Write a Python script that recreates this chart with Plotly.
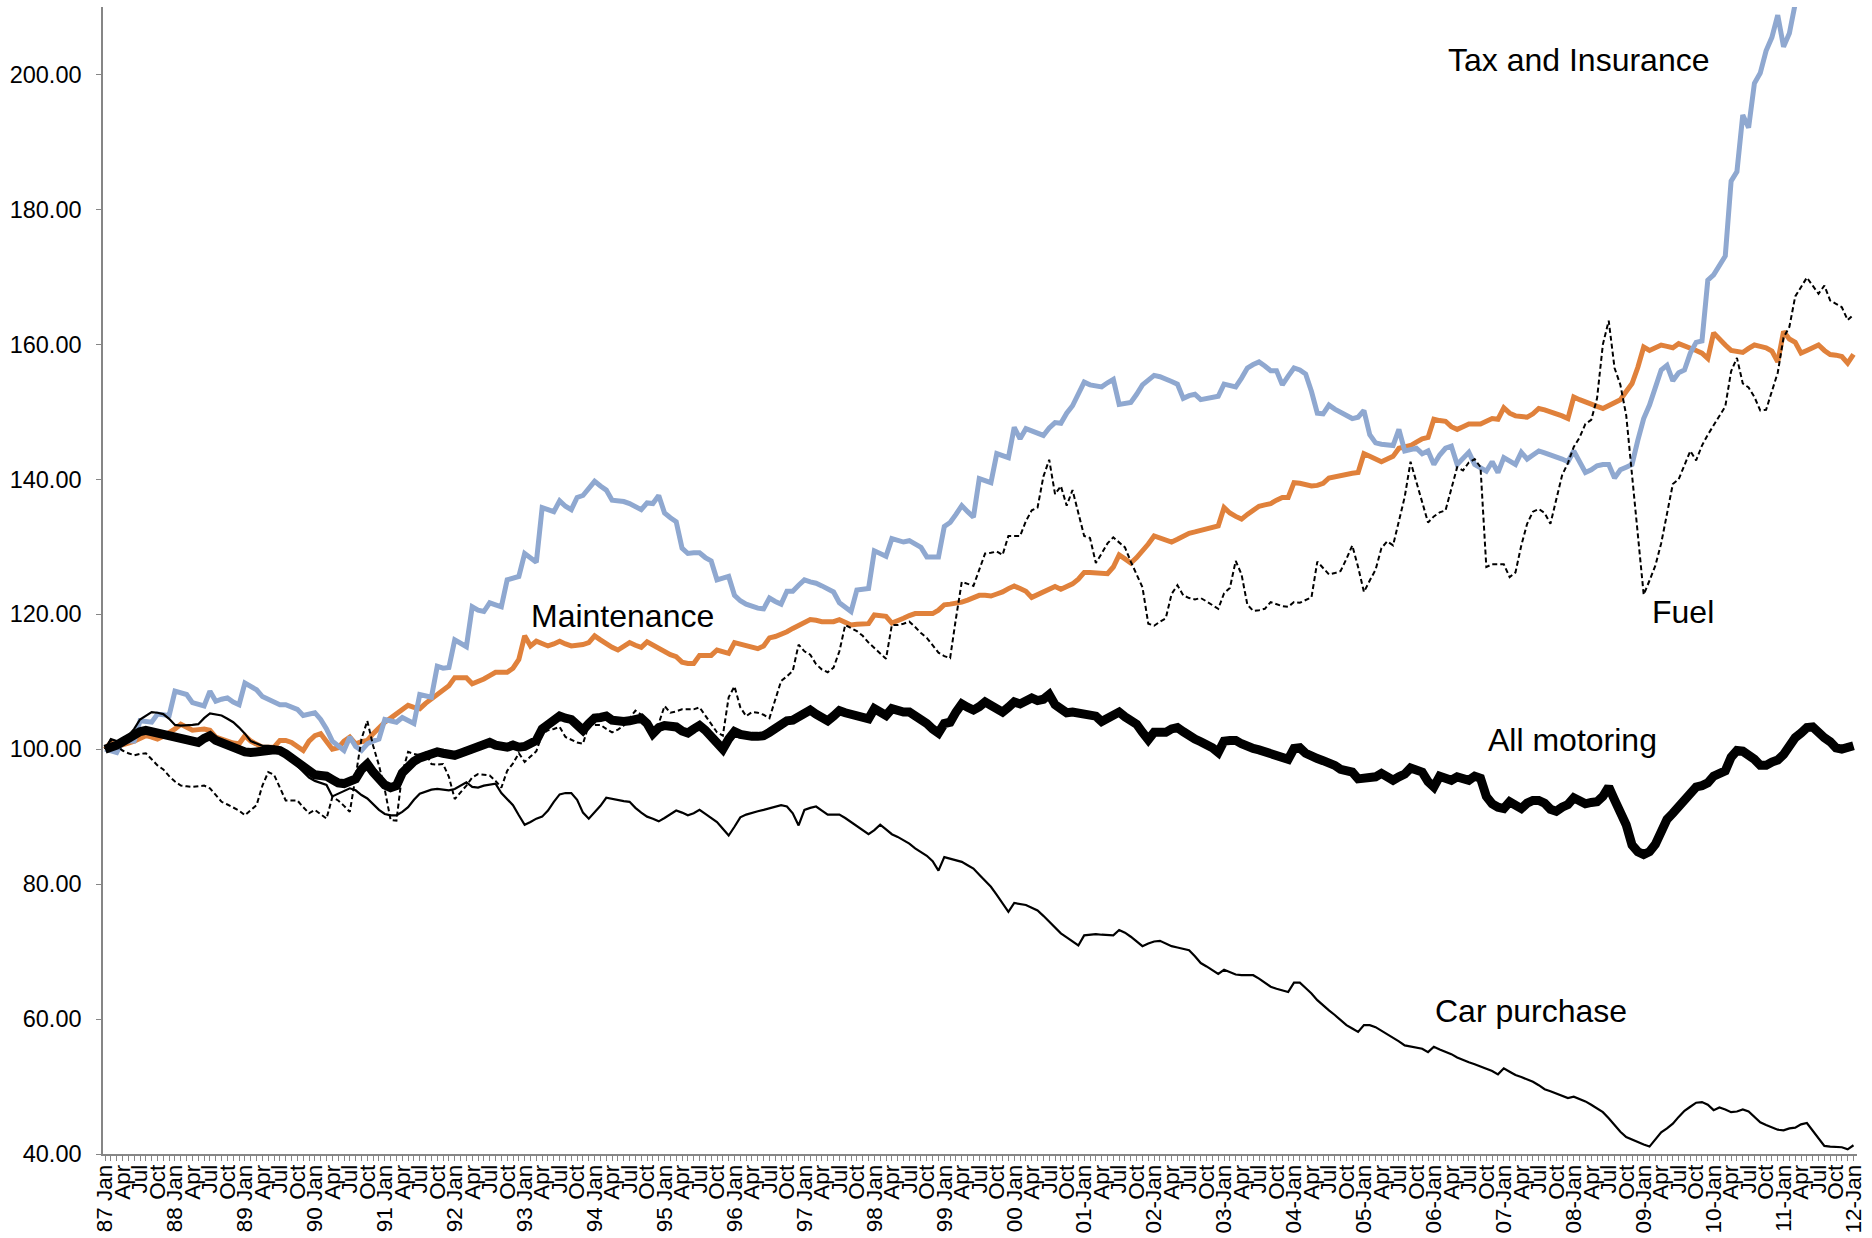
import plotly.graph_objects as go

# ---------------- data (monthly index, Jan 1987 = 100) ----------------
tax_insurance = [
    100.0, 99.7, 99.5, 101.2, 101.2, 101.2, 104.2, 104.1, 104.0, 105.2, 105.1, 105.0,
    108.6, 108.3, 108.1, 106.9, 106.6, 106.4, 108.6, 107.1, 107.4, 107.6, 107.0, 106.6,
    109.8, 109.2, 108.8, 107.8, 107.4, 106.8, 106.6, 106.6, 106.2, 105.9, 105.0, 105.2,
    105.4, 104.4, 103.0, 101.2, 100.4, 99.8, 101.8, 100.4, 99.8, 100.8, 101.2, 101.5,
    104.4, 104.2, 104.0, 104.7, 104.2, 103.8, 108.1, 107.9, 107.7, 112.3, 112.0, 112.1,
    116.2, 115.7, 115.2, 121.1, 120.6, 120.4, 121.7, 121.4, 121.1, 125.1, 125.4, 125.6,
    129.0, 128.3, 127.7, 135.8, 135.4, 135.2, 136.8, 136.0, 135.5, 137.3, 137.6, 138.6,
    139.7, 139.0, 138.4, 136.9, 136.8, 136.7, 136.4, 136.0, 135.5, 136.5, 136.4, 137.6,
    135.0, 134.3, 133.7, 129.8, 129.0, 129.1, 129.1, 128.4, 127.9, 125.1, 125.4, 125.6,
    122.8, 122.0, 121.5, 121.1, 120.9, 120.8, 122.4, 121.9, 121.5, 123.4, 123.4, 124.3,
    125.1, 124.8, 124.6, 124.2, 123.8, 123.3, 121.7, 121.0, 120.4, 123.6, 123.7, 123.8,
    129.4, 129.0, 128.6, 131.2, 130.9, 130.7, 130.9, 130.4, 129.9, 128.5, 128.5, 128.5,
    133.0, 133.6, 134.8, 136.1, 135.2, 134.4, 140.1, 139.8, 139.5, 143.8, 143.5, 143.2,
    147.7, 146.0, 147.5, 147.2, 146.8, 146.5, 147.6, 148.4, 148.3, 149.8, 150.9, 152.8,
    154.4, 154.0, 153.8, 153.7, 154.3, 154.8, 151.1, 151.3, 151.4, 152.6, 154.0, 154.7,
    155.4, 155.2, 154.9, 154.5, 154.1, 152.0, 152.4, 152.6, 151.8, 152.0, 152.2, 152.3,
    154.1, 153.9, 153.7, 155.0, 156.5, 157.0, 157.4, 156.8, 156.1, 156.1, 154.0, 155.3,
    156.5, 156.2, 155.6, 153.0, 149.8, 149.7, 151.0, 150.4, 149.9, 149.4, 149.0, 149.2,
    150.2, 146.6, 145.4, 145.2, 145.1, 145.0, 147.4, 144.2, 144.4, 144.6, 143.8, 144.2,
    142.2, 143.6, 144.6, 144.9, 142.2, 143.2, 144.0, 142.2, 141.8, 141.2, 142.6, 141.0,
    143.2, 142.7, 142.2, 144.0, 143.0, 143.6, 144.2, 143.9, 143.6, 143.4, 143.0, 142.6,
    144.2, 142.6, 141.0, 141.4, 142.0, 142.2, 142.2, 140.2, 141.4, 141.8, 142.2, 145.8,
    149.0, 151.0, 153.4, 156.2, 156.9, 154.6, 155.8, 156.2, 158.7, 160.3, 160.5, 169.5,
    170.3, 171.8, 173.1, 184.2, 185.6, 194.0, 192.1, 198.7, 200.2, 203.5, 205.5, 208.8,
    204.1, 206.1, 210.5, 213.0, 215.0, 216.0, 218.0, 219.0, 220.0, 222.0, 223.0, 224.0,
    226.0,
]

maintenance = [
    100.0, 101.0, 100.4, 100.6, 100.9, 101.2, 101.6, 102.0, 101.8, 101.5, 101.9, 102.4,
    103.0, 103.7, 103.2, 102.8, 102.9, 103.0, 102.8, 101.8, 101.5, 101.1, 100.9, 100.8,
    102.0, 101.2, 100.8, 100.3, 100.3, 100.3, 101.3, 101.3, 101.0, 100.5, 99.8, 101.2,
    102.0, 102.3, 101.2, 100.0, 100.2, 101.2, 101.8, 100.8, 101.1, 101.3, 102.3, 103.2,
    104.0, 104.6, 105.2, 105.8, 106.5, 106.2, 106.0, 106.8, 107.4, 108.2, 108.8, 109.4,
    110.6, 110.6, 110.6, 109.7, 110.0, 110.4, 110.9, 111.4, 111.4, 111.4, 112.0, 113.3,
    116.8, 115.3, 116.0, 115.6, 115.3, 115.6, 116.0, 115.6, 115.3, 115.4, 115.5, 115.8,
    116.8, 116.2, 115.6, 115.1, 114.7, 115.2, 115.8, 115.4, 115.1, 115.9, 115.4, 114.9,
    114.4, 114.0, 113.7, 112.9, 112.7, 112.7, 113.9, 113.9, 113.9, 114.7, 114.4, 114.2,
    115.8, 115.6, 115.4, 115.1, 114.9, 115.3, 116.5, 116.7, 117.0, 117.4, 117.9, 118.4,
    118.7, 119.2, 119.1, 118.9, 118.9, 118.9, 119.2, 118.8, 118.4, 118.5, 118.6, 118.6,
    119.9, 119.8, 119.7, 118.7, 119.0, 119.4, 119.8, 120.1, 120.1, 120.1, 120.1, 120.6,
    121.4, 121.5, 121.6, 121.8, 122.1, 122.5, 122.8, 122.8, 122.7, 123.0, 123.3, 123.8,
    124.2, 123.8, 123.4, 122.5, 122.9, 123.2, 123.7, 124.1, 123.7, 124.1, 124.5, 125.2,
    126.2, 126.2, 126.1, 126.0, 126.0, 127.0, 128.8, 128.2, 127.6, 128.4, 129.3, 130.4,
    131.6, 131.3, 131.0, 130.7, 131.1, 131.6, 132.0, 132.2, 132.4, 132.6, 132.8, 133.1,
    135.8, 135.0, 134.5, 134.1, 134.8, 135.5, 136.0, 136.2, 136.4, 136.9, 137.3, 137.3,
    139.5, 139.4, 139.2, 139.0, 139.1, 139.4, 140.2, 140.4, 140.6, 140.7, 140.9, 141.0,
    143.8, 143.4, 143.0, 142.6, 143.0, 143.4, 144.6, 144.8, 145.0, 145.5, 146.0, 146.2,
    148.9, 148.7, 148.6, 147.8, 147.4, 147.8, 148.2, 148.2, 148.2, 148.6, 149.0, 148.9,
    150.6, 149.8, 149.4, 149.3, 149.2, 149.7, 150.5, 150.3, 150.0, 149.8, 149.4, 149.0,
    152.2, 151.8, 151.4, 151.0, 150.8, 150.5, 151.0, 151.4, 151.8, 153.0, 154.2, 156.6,
    159.6, 159.1, 159.5, 159.9, 159.7, 159.5, 160.1, 159.8, 159.5, 159.1, 158.7, 157.9,
    161.7, 160.7, 159.9, 159.1, 159.0, 158.8, 159.4, 159.9, 159.7, 159.5, 159.0, 157.4,
    161.9, 160.8, 160.3, 158.7, 159.1, 159.5, 159.9, 159.1, 158.5, 158.4, 158.2, 157.2,
    158.5,
]

fuel = [
    100.0, 101.4, 100.5, 99.8, 99.4, 99.1, 99.3, 99.4, 98.5, 97.6, 97.0, 96.0,
    95.2, 94.6, 94.5, 94.4, 94.5, 94.6, 94.2, 93.2, 92.2, 91.8, 91.4, 90.9,
    90.2, 90.9, 91.7, 94.6, 96.6, 96.2, 94.2, 92.4, 92.4, 92.4, 91.4, 90.5,
    91.0, 90.4, 89.7, 92.9, 92.4, 91.6, 90.7, 96.0, 101.5, 104.2, 100.5, 97.6,
    94.0, 89.5, 89.4, 96.5, 99.6, 99.3, 99.1, 99.5, 97.8, 97.7, 97.8, 95.9,
    92.6, 93.6, 94.6, 95.8, 96.3, 96.2, 96.1, 95.3, 94.3, 96.8, 97.9, 99.4,
    98.1, 98.9, 99.7, 102.2, 102.8, 103.0, 103.3, 101.8, 101.4, 101.0, 100.8, 103.6,
    103.6, 103.6, 103.0, 102.5, 102.9, 103.5, 104.6, 105.7, 105.1, 104.0, 102.3, 103.8,
    106.4, 105.4, 105.6, 105.9, 105.9, 105.9, 106.2, 105.0, 103.8, 102.5, 102.0, 107.7,
    109.3, 106.2, 104.9, 105.5, 105.4, 105.1, 104.6, 107.2, 110.1, 110.8, 111.6, 115.5,
    114.5, 114.0, 112.6, 111.8, 111.4, 112.1, 114.5, 118.4, 118.0, 117.5, 116.8, 115.8,
    115.0, 114.2, 113.4, 118.4, 118.4, 118.6, 118.9, 118.1, 117.2, 116.5, 115.4, 114.3,
    113.8, 113.5, 119.4, 124.8, 124.5, 124.2, 126.6, 129.0, 129.1, 129.3, 128.8, 131.6,
    131.6, 131.6, 133.8, 135.4, 135.8, 140.4, 142.9, 137.8, 139.0, 136.1, 138.4, 134.8,
    131.6, 131.3, 127.6, 129.0, 130.5, 131.4, 130.6, 129.9, 127.8, 126.0, 124.0, 118.6,
    118.3, 118.9, 119.4, 123.0, 124.3, 122.8, 122.4, 122.2, 122.4, 121.9, 121.3, 120.8,
    123.1, 123.9, 127.9, 125.9, 121.4, 120.5, 120.6, 120.8, 121.8, 121.5, 121.2, 121.1,
    121.8, 121.7, 122.1, 122.5, 127.8, 126.8, 125.9, 126.1, 126.4, 128.2, 130.2, 127.0,
    123.3, 125.0, 126.6, 129.8, 130.8, 130.2, 134.0, 137.4, 142.6, 139.5, 136.6, 133.6,
    134.5, 135.1, 135.4, 138.6, 141.8, 141.3, 142.5, 143.0, 141.8, 127.0, 127.4, 127.4,
    127.4, 125.5, 126.2, 130.2, 133.4, 135.2, 135.6, 135.0, 133.4, 137.0, 140.6, 142.4,
    144.8, 146.2, 148.2, 148.8, 152.0, 160.0, 163.5, 156.5, 154.0, 149.5, 140.6, 131.2,
    122.9, 125.0, 127.2, 130.5, 135.0, 139.3, 140.0, 142.2, 144.2, 142.8, 145.0, 146.6,
    148.0, 149.4, 150.8, 156.0, 158.0, 154.2, 153.6, 152.2, 150.2, 150.3, 153.0, 155.8,
    161.0, 162.6, 167.1, 168.5, 169.9, 168.7, 167.5, 168.7, 166.5, 166.0, 165.5, 163.6,
    164.4,
]

all_motoring = [
    100.0, 100.2, 100.6, 101.1, 101.6, 102.2, 102.6, 102.8, 102.6, 102.4, 102.1, 101.8,
    101.6, 101.5, 101.3, 101.2, 101.0, 101.6, 102.0, 101.3, 100.9, 100.6, 100.3, 100.0,
    99.6, 99.5, 99.5, 99.7, 99.8, 99.9, 99.8, 99.3, 98.7, 98.1, 97.5, 96.6,
    96.2, 96.1, 96.0, 95.5, 95.0, 94.9, 95.1, 95.6, 97.0, 97.8, 96.6, 95.5,
    94.7, 94.3, 94.6, 96.5, 97.5, 98.2, 98.7, 99.0, 99.3, 99.6, 99.4, 99.2,
    99.1, 99.4, 99.7, 100.0, 100.4, 100.7, 101.0, 100.6, 100.4, 100.3, 100.6, 100.3,
    100.4, 100.8, 101.3, 103.0, 103.6, 104.2, 104.9, 104.6, 104.4, 103.6, 102.8, 103.8,
    104.6, 104.7, 104.9, 104.3, 104.1, 104.1, 104.2, 104.3, 104.6, 103.8, 102.3, 103.2,
    103.5, 103.4, 103.3, 102.7, 102.4, 103.0, 103.5, 102.8, 101.8, 101.0, 100.0, 101.5,
    102.6, 102.2, 101.9, 101.9, 101.9, 102.0, 102.5, 103.0, 103.7, 104.2, 104.3, 104.9,
    105.5, 105.8, 105.2, 104.6, 104.2, 104.9, 105.7, 105.4, 105.2, 105.1, 104.8, 104.5,
    106.0, 105.4, 105.0, 106.0, 105.6, 105.5, 105.5, 105.0, 104.4, 103.8, 103.0, 102.4,
    103.8, 104.0, 105.5, 106.7, 106.2, 105.8, 106.3, 107.0, 106.5, 106.1, 105.5, 106.2,
    107.0, 106.7, 107.3, 107.6, 107.2, 107.4, 108.1, 106.6, 106.0, 105.4, 105.5, 105.4,
    105.2, 105.0, 104.9, 104.1, 104.6, 105.2, 105.5, 104.8, 104.2, 103.7, 102.5, 101.4,
    102.5, 102.6, 102.5, 103.0, 103.2, 102.6, 101.9, 101.5, 101.1, 100.7, 100.2, 99.5,
    101.2, 101.3, 101.3, 100.8, 100.3, 100.1, 99.9, 99.6, 99.5, 99.2, 98.8, 98.5,
    100.1, 100.2, 99.4, 98.8, 98.6, 98.3, 98.1, 97.6, 97.0, 96.7, 96.6, 95.6,
    95.6, 95.8, 95.9, 96.4, 96.0, 95.4, 95.9, 96.3, 97.2, 97.0, 96.6, 95.2,
    94.4, 96.0, 95.6, 95.4, 95.9, 95.6, 95.4, 96.0, 95.7, 93.0, 91.9, 91.4,
    91.2, 92.2, 91.6, 91.2, 92.0, 92.4, 92.4, 92.0, 91.1, 90.8, 91.4, 91.8,
    92.8, 92.4, 91.9, 92.1, 92.2, 93.0, 94.4, 92.5, 90.5, 88.8, 85.8, 84.8,
    84.4, 84.8, 85.9, 88.0, 89.6, 90.5, 91.6, 92.5, 93.3, 94.4, 94.6, 95.0,
    96.0, 96.4, 96.8, 98.8, 99.8, 99.7, 99.2, 98.5, 97.6, 97.6, 98.1, 98.4,
    99.2, 100.8, 101.7, 102.4, 103.2, 103.3, 102.4, 101.7, 101.1, 100.2, 100.0, 100.1,
    100.5,
]

car_purchase = [
    100.0, 101.5, 101.2, 101.0, 102.0, 103.0, 104.4, 105.0, 105.5, 105.4, 105.2, 104.5,
    103.6, 103.5, 103.5, 103.6, 103.7, 104.6, 105.3, 105.2, 105.0, 104.5, 104.0, 103.2,
    102.3, 101.2, 100.8, 100.5, 100.5, 100.4, 100.0, 99.3, 98.5, 97.5, 96.6, 95.8,
    95.3, 95.0, 94.7, 93.0, 93.4, 93.8, 94.2, 93.9, 93.2, 92.7, 91.9, 91.0,
    90.4, 90.2, 90.2, 90.7, 91.4, 92.5, 93.4, 93.7, 94.0, 94.1, 94.0, 93.9,
    94.1, 94.6, 95.1, 94.4, 94.3, 94.6, 94.8, 94.9, 93.5, 92.6, 91.7, 90.2,
    88.8, 89.2, 89.7, 90.0, 90.9, 92.2, 93.3, 93.5, 93.5, 92.5, 90.6, 89.7,
    90.6, 91.6, 92.8, 92.6, 92.4, 92.3, 92.2, 91.3, 90.6, 90.0, 89.7, 89.3,
    89.8, 90.4, 90.9, 90.6, 90.2, 90.5, 91.0, 90.4, 89.8, 89.2, 88.2, 87.2,
    88.5, 89.9, 90.3, 90.6, 90.8, 91.0, 91.2, 91.4, 91.7, 91.5, 90.5, 88.7,
    91.0, 91.3, 91.5, 90.9, 90.3, 90.3, 90.3, 89.8, 89.2, 88.6, 88.0, 87.4,
    88.0, 88.8, 88.1, 87.4, 87.0, 86.5, 86.0, 85.3, 84.7, 84.2, 83.4, 82.0,
    84.0, 83.8, 83.6, 83.3, 82.8, 82.3, 81.4, 80.5, 79.6, 78.4, 77.1, 75.9,
    77.2, 77.0, 76.9, 76.5, 76.1, 75.3, 74.4, 73.5, 72.7, 72.1, 71.5, 70.9,
    72.4, 72.5, 72.6, 72.5, 72.4, 72.4, 73.2, 72.8, 72.2, 71.5, 70.8, 71.2,
    71.5, 71.6, 71.2, 70.8, 70.6, 70.4, 70.2, 69.3, 68.3, 67.8, 67.2, 66.7,
    67.3, 67.0, 66.6, 66.5, 66.5, 66.5, 66.0, 65.4, 64.8, 64.5, 64.3, 64.0,
    65.4, 65.4, 64.6, 63.8, 62.8, 62.0, 61.3, 60.6, 59.8, 59.1, 58.6, 58.1,
    59.1, 59.1, 58.8, 58.3, 57.7, 57.2, 56.7, 56.1, 55.9, 55.7, 55.6, 55.1,
    55.9, 55.5, 55.2, 54.8, 54.3, 53.9, 53.6, 53.3, 53.0, 52.6, 52.3, 51.8,
    52.7, 52.2, 51.7, 51.4, 51.1, 50.7, 50.2, 49.6, 49.3, 49.0, 48.6, 48.3,
    48.5, 48.2, 47.8, 47.3, 46.8, 46.2, 45.3, 44.3, 43.3, 42.5, 42.1, 41.7,
    41.4, 41.1, 42.2, 43.2, 43.8, 44.5, 45.5, 46.4, 47.0, 47.6, 47.7, 47.3,
    46.5, 46.9, 46.6, 46.2, 46.3, 46.6, 46.3, 45.5, 44.7, 44.3, 44.0, 43.6,
    43.5, 43.8, 43.9, 44.4, 44.6, 43.5, 42.3, 41.2, 41.1, 41.0, 41.0, 40.7,
    41.3,
]

# tick labels: one label every quarter (Jan / Apr / Jul / Oct)
year_labels = ["87 Jan", "88 Jan", "89 Jan", "90 Jan", "91 Jan", "92 Jan", "93 Jan",
               "94 Jan", "95 Jan", "96 Jan", "97 Jan", "98 Jan", "99 Jan", "00 Jan",
               "01-Jan", "02-Jan", "03-Jan", "04-Jan", "05-Jan", "06-Jan", "07-Jan",
               "08-Jan", "09-Jan", "10-Jan", "11-Jan", "12-Jan"]
quarter_labels = ["Apr", "Jul", "Oct"]

series_names = ["Tax and Insurance", "Maintenance", "Fuel", "All motoring", "Car purchase"]
y_ticks = [40, 60, 80, 100, 120, 140, 160, 180, 200]

# ---------------------------------------------------------------------
n = len(all_motoring)
for s in (tax_insurance, maintenance, fuel, car_purchase):
    assert len(s) == n, (len(s), n)
months = list(range(n))

tick_text = []
for yl in year_labels[:-1]:
    tick_text.append(yl)
    tick_text.extend(quarter_labels)
tick_text.append(year_labels[-1])
tick_vals = list(range(0, n, 3))

FONT = "Liberation Sans, Arial, sans-serif"
AXIS_GREY = "#868686"

fig = go.Figure()
fig.add_trace(go.Scatter(x=months, y=maintenance, mode="lines", name=series_names[1],
                         line=dict(color="#E0813B", width=5)))
fig.add_trace(go.Scatter(x=months, y=tax_insurance, mode="lines", name=series_names[0],
                         line=dict(color="#8FA8D0", width=5)))
fig.add_trace(go.Scatter(x=months, y=fuel, mode="lines", name=series_names[2],
                         line=dict(color="black", width=2, dash="5px,3px")))
fig.add_trace(go.Scatter(x=months, y=car_purchase, mode="lines", name=series_names[4],
                         line=dict(color="black", width=2.2)))
fig.add_trace(go.Scatter(x=months, y=all_motoring, mode="lines", name=series_names[3],
                         line=dict(color="black", width=9)))

annots = [
    ("Tax and Insurance", 230.0, 202.1),
    ("Maintenance", 72.8, 119.8),
    ("Fuel", 265.0, 120.4),
    ("All motoring", 237.0, 101.4),
    ("Car purchase", 227.9, 61.2),
]
for txt, ax_, ay_ in annots:
    fig.add_annotation(x=ax_, y=ay_, text=txt, showarrow=False, xanchor="left",
                       yanchor="middle", font=dict(family=FONT, size=32, color="black"))

fig.update_layout(
    width=1872, height=1238,
    margin=dict(l=103, r=15, t=7, b=84, autoexpand=False),
    paper_bgcolor="white", plot_bgcolor="white",
    showlegend=False,
    font=dict(family=FONT, color="black"),
    xaxis=dict(
        range=[-0.35, n - 1 + 0.6],
        automargin=False,
        showgrid=False, zeroline=False,
        showline=True, linecolor=AXIS_GREY, linewidth=1.5,
        tickmode="array", tickvals=tick_vals, ticktext=tick_text,
        tickangle=-90, tickfont=dict(family=FONT, size=22.5, color="black"),
        ticks="outside", ticklen=5, tickcolor=AXIS_GREY, tickwidth=1,
        ticklabelstandoff=-5,
        minor=dict(ticks="outside", ticklen=5, tickcolor=AXIS_GREY, tickwidth=1,
                   tick0=0, dtick=1),
    ),
    yaxis=dict(
        range=[40, 210],
        automargin=False,
        showgrid=False, zeroline=False,
        showline=True, linecolor=AXIS_GREY, linewidth=1.5,
        tickmode="array", tickvals=y_ticks, tickformat=".2f",
        tickfont=dict(family=FONT, size=23.5, color="black"),
        ticks="outside", ticklen=5, tickcolor=AXIS_GREY, tickwidth=1,
        ticklabelstandoff=10,
    ),
)

# remove the browser's default 8px page margin so the figure fills the window exactly
fig.write_html(
    "out.html",
    config={"displayModeBar": False},
    post_script="document.body.style.margin='0';document.body.style.overflow='hidden';",
)
